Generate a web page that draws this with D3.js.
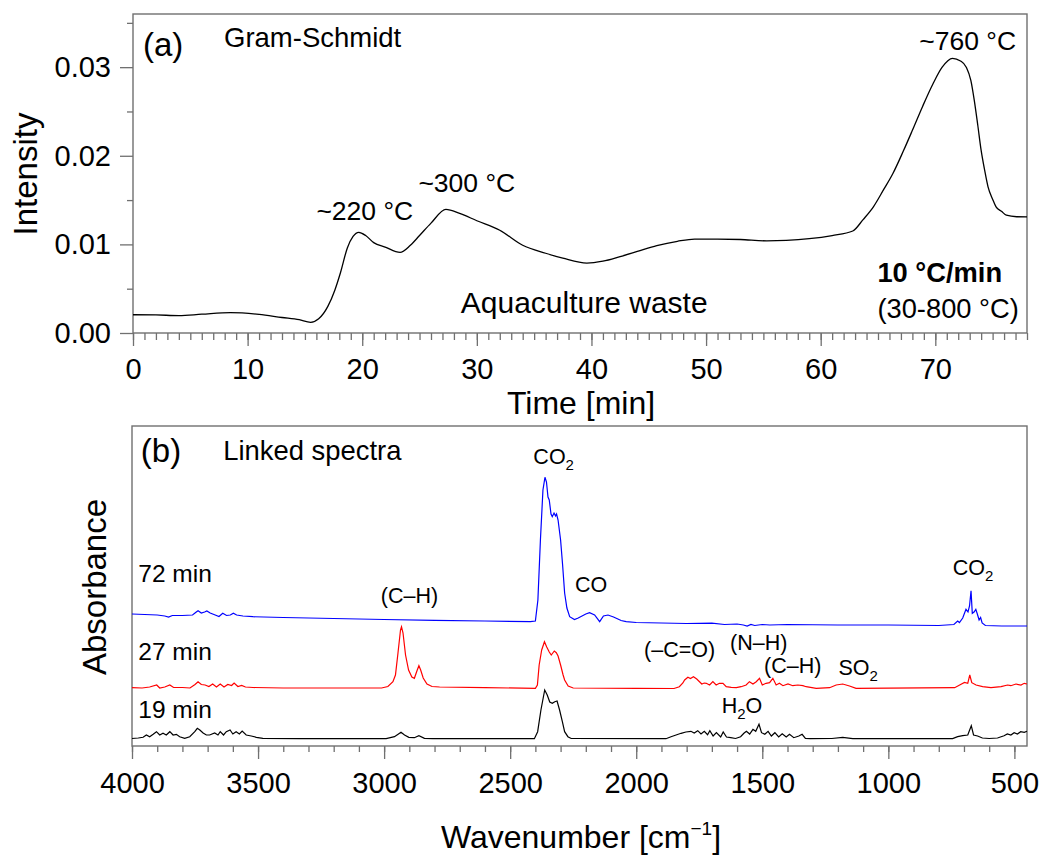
<!DOCTYPE html>
<html>
<head>
<meta charset="utf-8">
<script src="https://cdn.jsdelivr.net/npm/d3@7"></script>
<style>
  body { margin: 0; background: #fff; }
  svg { display: block; }
  text { font-family: "Liberation Sans", Arial, Helvetica, sans-serif; fill: #000; }
</style>
</head>
<body>
<svg id="chart" width="1043" height="859"></svg>
<script>
// ---- (a) Gram-Schmidt trace ----
const gsTime = [0, 2, 4, 6, 8.5, 11, 13, 14.5, 15.5, 16.2, 17, 17.6, 18.1, 18.7, 19.2, 19.7, 20.3, 21, 22, 23.3,
  24.2, 25, 26, 27.3, 28.5, 30, 32, 34, 36, 37.5, 39.6, 41, 42.5, 44, 45.7, 47.5, 49, 51, 53, 55.3, 57, 59, 61,
  62.8, 63.7, 64.6, 65.5, 66.3, 67.2, 68, 68.9, 69.8, 70.6, 71.5, 72.2, 72.7, 73.1, 73.4, 73.7, 74, 74.3, 74.6,
  75, 75.3, 75.8, 76.2, 77.1, 78];
const gsIntensity = [0.00206, 0.00204, 0.00196, 0.00212, 0.0023, 0.0021, 0.00175, 0.0015, 0.0012, 0.0016, 0.003,
  0.0048, 0.0068, 0.0096, 0.0109, 0.01136, 0.0110, 0.0102, 0.0097, 0.0091, 0.0099, 0.0110, 0.0124, 0.01395,
  0.0135, 0.01267, 0.0116, 0.0099, 0.0090, 0.00844, 0.00788, 0.0081, 0.00862, 0.0092, 0.00986, 0.01035, 0.0106,
  0.0106, 0.01055, 0.0104, 0.01045, 0.01064, 0.0110, 0.01151, 0.0128, 0.01424, 0.0162, 0.018, 0.0205, 0.02287,
  0.0256, 0.02813, 0.0300, 0.0310, 0.0307, 0.0300, 0.0285, 0.02625, 0.0235, 0.0206, 0.0184, 0.0165, 0.0151,
  0.01424, 0.0137, 0.0133, 0.01312, 0.0131];
const timeTicks = [0, 10, 20, 30, 40, 50, 60, 70];
const intensityTicks = [0.00, 0.01, 0.02, 0.03];

// ---- (b) linked FTIR spectra ----
const wavenumberTicks = [4000, 3500, 3000, 2500, 2000, 1500, 1000, 500];
const spectrumNames = ["19 min", "27 min", "72 min"];
const spectrumColors = ["#000000", "#ff0000", "#0000ff"];
const spectrumOffsets = [0.07, 0.58, 1.24];

const wn19 = [4000, 3975, 3956, 3943, 3930, 3916, 3903, 3890, 3877, 3864, 3850, 3837, 3824, 3811, 3791, 3771, 3751,
  3741, 3731, 3718, 3705, 3692, 3672, 3659, 3650, 3637, 3626, 3611, 3600, 3587, 3574, 3563, 3547, 3527, 3507, 3481,
  3336, 2992, 2959, 2943, 2933, 2919, 2902, 2880, 2862, 2840, 2807, 2404, 2391, 2378, 2363, 2353, 2343, 2333, 2323,
  2314, 2304, 2293, 2284, 2271, 2258, 1882, 1862, 1842, 1822, 1803, 1783, 1770, 1756, 1743, 1730, 1717, 1708, 1695,
  1682, 1665, 1655, 1642, 1625, 1606, 1586, 1573, 1563, 1550, 1537, 1526, 1513, 1503, 1490, 1477, 1464, 1450, 1435,
  1421, 1405, 1392, 1375, 1355, 1342, 1329, 1309, 1224, 1181, 1141, 745, 725, 705, 685, 671, 662, 646, 627, 600,
  567, 541, 528, 514, 501, 488, 475, 461, 450];
const abs19 = [0.005, 0.01, 0.017, 0.04, 0.023, 0.047, 0.073, 0.04, 0.057, 0.04, 0.073, 0.04, 0.047, 0.023, 0.007,
  0.023, 0.073, 0.107, 0.09, 0.06, 0.04, 0.04, 0.06, 0.04, 0.073, 0.04, 0.073, 0.09, 0.05, 0.073, 0.05, 0.08, 0.04,
  0.03, 0.017, 0.007, 0.004, 0.003, 0.023, 0.05, 0.067, 0.04, 0.017, 0.013, 0.033, 0.007, 0.003, 0.003, 0.073, 0.29,
  0.49, 0.44, 0.37, 0.357, 0.373, 0.38, 0.29, 0.173, 0.073, 0.023, 0.005, 0.003, 0.023, 0.04, 0.057, 0.07, 0.077,
  0.06, 0.083, 0.05, 0.077, 0.043, 0.083, 0.03, 0.063, 0.02, 0.07, 0.02, 0.013, 0.005, 0.023, 0.057, 0.077, 0.05,
  0.097, 0.077, 0.147, 0.063, 0.047, 0.077, 0.03, 0.063, 0.02, 0.053, 0.02, 0.047, 0.013, 0.03, 0.047, 0.007, 0.003,
  0.005, 0.017, 0.004, 0.004, 0.023, 0.033, 0.04, 0.133, 0.04, 0.03, 0.01, 0.005, 0.01, 0.033, 0.05, 0.04, 0.063,
  0.05, 0.073, 0.067, 0.077];

const wn27 = [4000, 3960, 3930, 3902, 3890, 3870, 3850, 3835, 3800, 3770, 3750, 3738, 3725, 3710, 3695, 3680, 3665,
  3650, 3635, 3620, 3605, 3595, 3580, 3565, 3550, 3520, 3400, 3010, 2985, 2965, 2955, 2945, 2935, 2931, 2925, 2915,
  2903, 2890, 2880, 2870, 2862, 2855, 2845, 2830, 2810, 2780, 2600, 2400, 2392, 2385, 2375, 2364, 2355, 2345, 2337,
  2325, 2317, 2310, 2300, 2290, 2284, 2270, 2250, 2000, 1850, 1829, 1815, 1808, 1795, 1785, 1773, 1760, 1749, 1740,
  1730, 1722, 1709, 1696, 1683, 1670, 1656, 1643, 1623, 1603, 1584, 1564, 1551, 1537, 1524, 1511, 1500, 1485, 1471,
  1458, 1445, 1432, 1418, 1398, 1379, 1359, 1339, 1326, 1286, 1233, 1207, 1181, 1154, 1128, 737, 717, 698, 685, 677,
  669, 652, 626, 593, 553, 527, 514, 494, 474, 461, 450];
const abs27 = [0.003, 0, 0.01, 0.03, 0, 0.01, 0.03, 0.005, 0.005, 0, 0.035, 0.063, 0.035, 0.03, 0.015, 0.04, 0.01,
  0.04, 0.01, 0.035, 0.025, 0.05, 0.015, 0.025, 0.01, 0.005, 0, 0, 0.015, 0.063, 0.13, 0.35, 0.58, 0.613, 0.55, 0.33,
  0.18, 0.11, 0.097, 0.17, 0.223, 0.18, 0.1, 0.04, 0.015, 0.01, 0.003, -0.003, 0.03, 0.23, 0.38, 0.463, 0.41, 0.36,
  0.33, 0.37, 0.353, 0.32, 0.23, 0.13, 0.08, 0.02, 0, -0.003, -0.005, 0.013, 0.05, 0.08, 0.107, 0.095, 0.113, 0.09,
  0.063, 0.04, 0.05, 0.047, 0.03, 0.063, 0.03, 0.047, 0.047, 0.013, 0.007, 0.003, 0.013, 0.03, 0.063, 0.04, 0.063,
  0.097, 0.03, 0.047, 0.053, 0.097, 0.03, 0.047, 0.023, 0.04, 0.023, 0.03, 0.023, 0.013, -0.003, 0.003, 0.03, 0.04,
  0.02, -0.003, 0.003, 0.03, 0.056, 0.047, 0.13, 0.053, 0.03, 0.013, 0.003, 0.013, 0.03, 0.023, 0.04, 0.03, 0.047,
  0.04];

const wn72 = [4000, 3950, 3900, 3870, 3855, 3840, 3800, 3760, 3745, 3738, 3725, 3712, 3703, 3690, 3670, 3655, 3640,
  3625, 3610, 3598, 3585, 3560, 3520, 3400, 3200, 3000, 2800, 2600, 2420, 2400, 2390, 2380, 2370, 2362, 2356, 2350,
  2345, 2338, 2333, 2326, 2320, 2316, 2310, 2300, 2292, 2284, 2275, 2264, 2245, 2230, 2200, 2185, 2165, 2145, 2130,
  2112, 2090, 2060, 2040, 2000, 1900, 1800, 1700, 1650, 1600, 1575, 1560, 1545, 1530, 1500, 1470, 1400, 1200, 1000,
  800, 740, 725, 718, 705, 692, 684, 678, 672, 667, 660, 653, 647, 640, 634, 628, 615, 550, 450];
const abs72 = [0.08, 0.075, 0.07, 0.06, 0.05, 0.065, 0.065, 0.07, 0.1, 0.113, 0.09, 0.1, 0.11, 0.09, 0.07, 0.055,
  0.087, 0.065, 0.07, 0.087, 0.07, 0.06, 0.053, 0.045, 0.035, 0.025, 0.017, 0.01, 0.003, 0.01, 0.22, 0.82, 1.32,
  1.447, 1.40, 1.25, 1.22, 1.08, 1.053, 1.09, 1.06, 1.08, 1.02, 0.82, 0.57, 0.29, 0.14, 0.053, 0.025, 0.04, 0.08,
  0.093, 0.07, 0.003, 0.06, 0.07, 0.05, 0.015, 0.003, -0.005, -0.01, -0.015, -0.012, -0.025, -0.02, -0.03, -0.04,
  -0.025, -0.035, -0.025, -0.03, -0.025, -0.03, -0.03, -0.035, -0.025, 0.01, -0.005, 0.04, 0.127, 0.10, 0.16, 0.313,
  0.087, 0.10, 0.127, 0.08, 0.02, 0.045, -0.01, -0.035, -0.04, -0.04];

const spectra = [
  { wn: wn19, abs: abs19 },
  { wn: wn27, abs: abs27 },
  { wn: wn72, abs: abs72 }
];

const svg = d3.select("#chart");
const axisColor = "#707070";

// ---------- panel (a) ----------
const pa = { left: 133, right: 1027, top: 14, bottom: 333 };
const xT = d3.scaleLinear().domain([0, 78]).range([pa.left, pa.right]);
const yT = d3.scaleLinear().domain([0, 0.036]).range([pa.bottom, pa.top]);

const gA = svg.append("g");

// minor ticks
gA.append("g").attr("transform", `translate(0,${pa.bottom})`)
  .call(d3.axisBottom(xT).tickValues(d3.range(0, 79, 1)).tickSize(7).tickFormat(""));
gA.append("g").attr("transform", `translate(${pa.left},0)`)
  .call(d3.axisLeft(yT).tickValues([0.005, 0.015, 0.025, 0.035]).tickSize(6).tickFormat(""));
// major ticks with labels
gA.append("g").attr("class", "tick-labels").attr("transform", `translate(0,${pa.bottom})`)
  .call(d3.axisBottom(xT).tickValues(timeTicks).tickSize(13).tickPadding(12).tickFormat(d3.format("d")));
gA.append("g").attr("class", "tick-labels").attr("transform", `translate(${pa.left},0)`)
  .call(d3.axisLeft(yT).tickValues(intensityTicks).tickSize(13).tickPadding(9).tickFormat(d3.format(".2f")));

gA.selectAll(".domain").remove();
gA.append("rect")
  .attr("x", pa.left).attr("y", pa.top)
  .attr("width", pa.right - pa.left).attr("height", pa.bottom - pa.top)
  .attr("fill", "none").attr("stroke", axisColor).attr("stroke-width", 1.4);

const gsLine = d3.line().x((d, i) => xT(gsTime[i])).y(d => yT(d)).curve(d3.curveMonotoneX);
gA.append("path").datum(gsIntensity)
  .attr("d", gsLine).attr("fill", "none").attr("stroke", "#000").attr("stroke-width", 1.3);

gA.append("text").attr("x", 581).attr("y", 414).attr("text-anchor", "middle")
  .attr("font-size", 32).text("Time [min]");
gA.append("text").attr("transform", "translate(37,174) rotate(-90)").attr("text-anchor", "middle")
  .attr("font-size", 33).text("Intensity");

const annotA = [
  { t: 0.87, v: 0.0313, s: 33, txt: "(a)" },
  { t: 7.94, v: 0.03232, s: 27.5, txt: "Gram-Schmidt" },
  { t: 16.0, v: 0.01275, s: 26.5, txt: "~220 °C" },
  { t: 24.9, v: 0.0159, s: 26.5, txt: "~300 °C" },
  { t: 68.6, v: 0.03195, s: 26.5, txt: "~760 °C" },
  { t: 28.6, v: 0.00228, s: 30, txt: "Aquaculture waste" },
  { t: 64.95, v: 0.00172, s: 27.3, txt: "(30-800 °C)" }
];
gA.selectAll("text.annot").data(annotA).join("text").attr("class", "annot")
  .attr("x", d => xT(d.t)).attr("y", d => yT(d.v)).attr("font-size", d => d.s).text(d => d.txt);
gA.append("text").attr("x", xT(64.95)).attr("y", yT(0.0058))
  .attr("font-size", 27.3).attr("font-weight", "bold").text("10 °C/min");

// ---------- panel (b) ----------
const pb = { left: 132, right: 1027, top: 426, bottom: 746 };
const xB = d3.scaleLinear().domain([4000, 450]).range([pb.left, pb.right]);
const yB = d3.scaleLinear().domain([0, 3.2]).range([pb.bottom, pb.top]);

const gB = svg.append("g");
gB.append("g").attr("transform", `translate(0,${pb.bottom})`)
  .call(d3.axisBottom(xB).tickValues(d3.range(4000, 449, -100)).tickSize(6).tickFormat(""));
gB.append("g").attr("class", "tick-labels").attr("transform", `translate(0,${pb.bottom})`)
  .call(d3.axisBottom(xB).tickValues(wavenumberTicks).tickSize(13).tickPadding(13).tickFormat(d3.format("d")));
gB.selectAll(".domain").remove();
gB.append("rect")
  .attr("x", pb.left).attr("y", pb.top)
  .attr("width", pb.right - pb.left).attr("height", pb.bottom - pb.top)
  .attr("fill", "none").attr("stroke", axisColor).attr("stroke-width", 1.4);

spectra.forEach((s, k) => {
  const line = d3.line().x((d, i) => xB(s.wn[i])).y(d => yB(d + spectrumOffsets[k]));
  gB.append("path").datum(s.abs)
    .attr("d", line).attr("fill", "none")
    .attr("stroke", spectrumColors[k]).attr("stroke-width", 1.2);
});

const curveLabelY = [0.277, 0.86, 1.643];
gB.selectAll("text.series").data(spectrumNames).join("text").attr("class", "series")
  .attr("x", xB(3975)).attr("y", (d, i) => yB(curveLabelY[i]))
  .attr("font-size", 24.5).text(d => d);

gB.append("text").attr("x", xB(3965)).attr("y", yB(2.843)).attr("font-size", 33).text("(b)");
gB.append("text").attr("x", xB(3638)).attr("y", yB(2.86)).attr("font-size", 27.4).text("Linked spectra");

// band assignments; sub holds a subscript digit placed after the main part
const bands = [
  { w: 3013, a: 1.427, main: "(C\u2013H)" },
  { w: 2408, a: 2.82, main: "CO", sub: "2" },
  { w: 2243, a: 1.543, main: "CO" },
  { w: 745, a: 1.71, main: "CO", sub: "2" },
  { w: 1969, a: 0.893, main: "(\u2013C=O)" },
  { w: 1628, a: 0.96, main: "(N\u2013H)" },
  { w: 1493, a: 0.727, main: "(C\u2013H)" },
  { w: 1198, a: 0.71, main: "SO", sub: "2" }
];
bands.forEach(b => {
  const t = gB.append("text").attr("x", xB(b.w)).attr("y", yB(b.a)).attr("font-size", 21.5);
  t.append("tspan").text(b.main);
  if (b.sub) t.append("tspan").attr("font-size", 15).attr("dy", 6).text(b.sub);
});
const water = gB.append("text").attr("x", xB(1661)).attr("y", yB(0.327)).attr("font-size", 21.5);
water.append("tspan").text("H");
water.append("tspan").attr("font-size", 15).attr("dy", 6).text("2");
water.append("tspan").attr("dy", -6).text("O");

const wl = gB.append("text").attr("x", 581).attr("y", 848).attr("text-anchor", "middle").attr("font-size", 32);
wl.append("tspan").text("Wavenumber [cm");
wl.append("tspan").attr("font-size", 19).attr("dy", -13).text("\u22121");
wl.append("tspan").attr("dy", 13).text("]");
gB.append("text").attr("transform", "translate(106,587) rotate(-90)").attr("text-anchor", "middle")
  .attr("font-size", 33).text("Absorbance");

// shared axis styling
svg.selectAll(".tick line").attr("stroke", axisColor).attr("stroke-width", 1.3);
svg.selectAll(".tick-labels text").attr("font-size", 29).attr("fill", "#000")
  .style("font-family", '"Liberation Sans", Arial, sans-serif');
</script>
</body>
</html>
